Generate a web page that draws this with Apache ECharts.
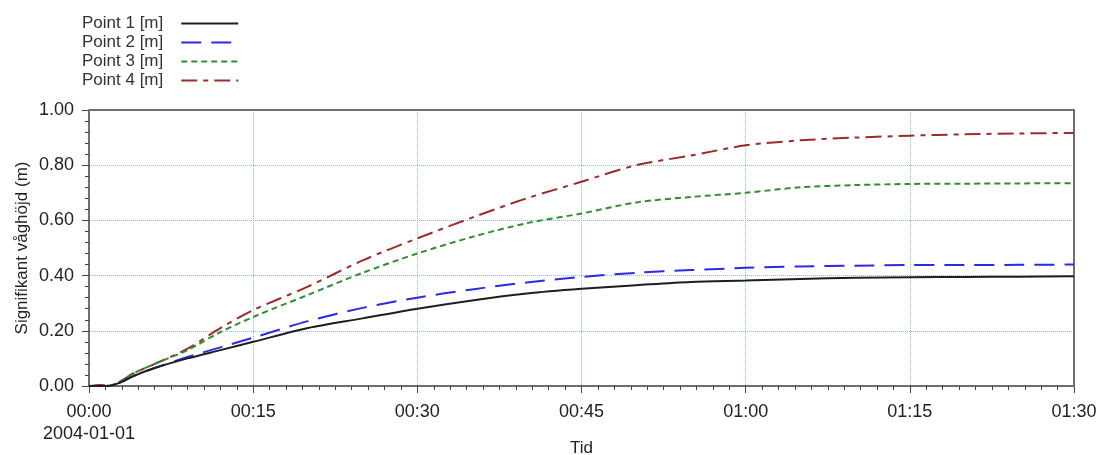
<!DOCTYPE html>
<html>
<head>
<meta charset="utf-8">
<script src="https://cdn.jsdelivr.net/npm/echarts@6/dist/echarts.min.js"></script>
<style>
  html, body { margin: 0; padding: 0; background: #fff; }
  #chart { width: 1100px; height: 455px; }
</style>
</head>
<body>
<div id="chart"></div>
<script>
// minutes since 2004-01-01 00:00
const minutes = [0, 1, 2, 3, 4, 6, 9, 12, 15, 20, 25, 30, 35, 40, 45, 50, 55, 60, 65, 70, 75, 80, 85, 90];
const point1 = [0, 0, 0.002, 0.015, 0.035, 0.065, 0.1, 0.13, 0.16, 0.21, 0.245, 0.28, 0.31, 0.335, 0.352, 0.365, 0.377, 0.382, 0.388, 0.392, 0.394, 0.395, 0.396, 0.398];
const point2 = [0, 0, 0.002, 0.015, 0.035, 0.065, 0.105, 0.14, 0.175, 0.235, 0.283, 0.32, 0.35, 0.375, 0.395, 0.41, 0.42, 0.428, 0.433, 0.436, 0.438, 0.438, 0.439, 0.44];
const point3 = [0, 0, 0.002, 0.02, 0.045, 0.08, 0.13, 0.195, 0.25, 0.33, 0.41, 0.48, 0.54, 0.59, 0.625, 0.665, 0.685, 0.7, 0.72, 0.728, 0.732, 0.733, 0.734, 0.735];
const point4 = [0, 0.004, 0.002, 0.02, 0.045, 0.08, 0.135, 0.21, 0.275, 0.36, 0.455, 0.535, 0.61, 0.68, 0.74, 0.8, 0.835, 0.872, 0.89, 0.9, 0.907, 0.912, 0.915, 0.917];
const seriesNames = ['Point 1 [m]', 'Point 2 [m]', 'Point 3 [m]', 'Point 4 [m]'];
const yTicks = [0, 0.2, 0.4, 0.6, 0.8, 1.0];

const font = 'Liberation Sans';
const pair = (vals) => minutes.map((m, i) => [m, vals[i]]);
const fmtTime = (v) => {
  const h = Math.floor(v / 60), m = Math.round(v % 60);
  const s = String(h).padStart(2, '0') + ':' + String(m).padStart(2, '0');
  return v === 0 ? s + '\n2004-01-01' : s;
};

const styles = [
  { color: '#1e1e1e', type: 'solid' },
  { color: '#2a2ae6', type: [20, 10] },
  { color: '#2e8f2e', type: [6, 4] },
  { color: '#9e2a2a', type: [16, 6, 5, 6] }
];
const values = [point1, point2, point3, point4];
const gridLine = { show: true, lineStyle: { color: '#8fb6e8', type: 'dotted', width: 1 } };
const frame = { show: true, onZero: false, lineStyle: { color: '#707070', width: 2 } };

const chart = echarts.init(document.getElementById('chart'), null, { renderer: 'canvas' });
chart.setOption({
  animation: false,
  backgroundColor: '#fff',
  textStyle: { fontFamily: font },
  legend: {
    orient: 'vertical',
    left: 77,
    top: 10,
    align: 'right',
    itemWidth: 57,
    itemHeight: 10,
    itemGap: 2,
    itemStyle: { opacity: 0 },
    textStyle: { fontSize: 17, lineHeight: 16, color: '#333', fontFamily: font, padding: [0, 13, 0, 0] },
    data: seriesNames
  },
  grid: {
    left: 89, right: 26, top: 110, bottom: 69,
    outerBoundsMode: 'none'
  },
  xAxis: [{
    type: 'value',
    min: 0, max: 90, interval: 15,
    name: 'Tid',
    nameLocation: 'middle',
    nameGap: 54,
    nameMoveOverlap: false,
    nameTextStyle: { fontSize: 17, color: '#222', fontFamily: font },
    axisLine: { onZero: false, lineStyle: { color: '#444', width: 1.5 } },
    axisTick: { show: true, length: 7, lineStyle: { color: '#444' } },
    minorTick: { show: true, splitNumber: 10, length: 4, lineStyle: { color: '#444' } },
    axisLabel: { fontSize: 18, color: '#222', margin: 15, lineHeight: 22, formatter: fmtTime, fontFamily: font },
    splitLine: gridLine
  }, {
    type: 'value', position: 'top', min: 0, max: 90, z: 5,
    axisLine: frame, axisTick: { show: false }, axisLabel: { show: false }, splitLine: { show: false }
  }],
  yAxis: [{
    type: 'value',
    min: 0, max: 1, interval: 0.2,
    name: 'Signifikant våghöjd (m)',
    nameLocation: 'middle',
    nameGap: 58,
    nameMoveOverlap: false,
    nameTextStyle: { fontSize: 17, color: '#222', fontFamily: font },
    axisLine: { show: true, onZero: false, lineStyle: { color: '#444', width: 1.5 } },
    axisTick: { show: true, length: 7, lineStyle: { color: '#444' } },
    minorTick: { show: true, splitNumber: 5, length: 4, lineStyle: { color: '#444' } },
    axisLabel: {
      fontSize: 18, color: '#222', margin: 15, fontFamily: font,
      formatter: (v) => yTicks.some(t => Math.abs(t - v) < 1e-9) ? v.toFixed(2) : ''
    },
    splitLine: gridLine
  }, {
    type: 'value', position: 'right', min: 0, max: 1, z: 5,
    axisLine: frame, axisTick: { show: false }, axisLabel: { show: false }, splitLine: { show: false }
  }],
  series: values.map((vals, i) => ({
    name: seriesNames[i],
    type: 'line',
    data: pair(vals),
    smooth: 0.3,
    symbol: 'none',
    color: styles[i].color,
    lineStyle: { color: styles[i].color, width: 2, type: styles[i].type },
    z: 10 - i
  }))
});
</script>
</body>
</html>
